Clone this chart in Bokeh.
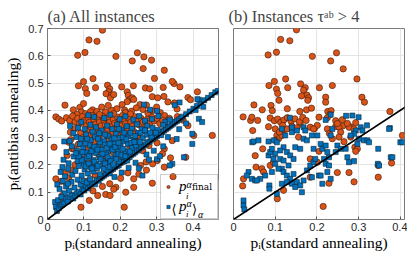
from bokeh.plotting import figure
from bokeh.layouts import row
from bokeh.models import Legend, LegendItem, Label, FixedTicker, Range1d, Slope, BoxAnnotation
from bokeh.embed import file_html
from bokeh.resources import INLINE

ORANGE = "#D95319"
BLUE = "#0072BD"

x_ticks = [0, 0.1, 0.2, 0.3, 0.4]
x_tick_labels = ["0", "0.1", "0.2", "0.3", "0.4"]
y_ticks = [0, 0.1, 0.2, 0.3, 0.4, 0.5, 0.6, 0.7]
y_tick_labels = ["0", "0.1", "0.2", "0.3", "0.4", "0.5", "0.6", "0.7"]
xmax_a = 0.47
xmax_b = 0.41
ymax = 0.7

# ---- panel (a): all instances, p_i^{alpha_final} (orange circles)
a_final = [
    (0.151,0.694),(0.114,0.658),(0.136,0.653),(0.083,0.602),(0.103,0.612),(0.188,0.598),(0.247,0.611),
    (0.233,0.581),(0.265,0.596),(0.286,0.584),(0.263,0.553),(0.321,0.547),(0.294,0.517),(0.125,0.516),
    (0.099,0.505),(0.085,0.490),(0.104,0.480),(0.108,0.462),(0.132,0.483),(0.165,0.492),(0.171,0.479),
    (0.168,0.468),(0.161,0.461),(0.176,0.456),(0.173,0.446),(0.182,0.458),(0.204,0.486),(0.219,0.468),
    (0.222,0.455),(0.226,0.440),(0.219,0.432),(0.233,0.446),(0.236,0.490),(0.269,0.482),(0.281,0.479),
    (0.318,0.484),(0.348,0.498),(0.343,0.506),(0.364,0.486),(0.412,0.468),(0.288,0.450),(0.303,0.446),
    (0.320,0.451),(0.386,0.447),(0.393,0.439),(0.237,0.440),(0.254,0.421),(0.272,0.419),(0.331,0.431),
    (0.349,0.427),(0.048,0.419),(0.071,0.402),(0.089,0.411),(0.093,0.394),(0.099,0.425),(0.124,0.402),
    (0.136,0.396),(0.159,0.394),(0.176,0.401),(0.191,0.406),(0.212,0.401),(0.231,0.397),(0.023,0.376),
    (0.262,0.403),(0.300,0.412),(0.356,0.405),(0.310,0.392),
    (0.118,0.395),(0.149,0.412),(0.167,0.418),(0.205,0.421),(0.244,0.409),(0.286,0.398),(0.322,0.381),
    (0.104,0.388),(0.081,0.385),(0.214,0.392),
    (0.031,0.368),(0.039,0.361),(0.052,0.373),(0.061,0.363),(0.069,0.379),(0.076,0.358),(0.083,0.371),
    (0.088,0.351),(0.096,0.377),(0.101,0.363),(0.106,0.344),(0.111,0.373),(0.115,0.356),(0.119,0.337),
    (0.123,0.381),(0.127,0.367),(0.131,0.349),(0.135,0.331),(0.139,0.373),(0.143,0.357),(0.147,0.343),
    (0.151,0.379),(0.155,0.364),(0.159,0.347),(0.163,0.333),(0.167,0.371),(0.171,0.357),(0.176,0.339),
    (0.181,0.367),(0.185,0.353),(0.189,0.335),(0.193,0.375),(0.197,0.359),(0.201,0.343),(0.206,0.381),
    (0.211,0.366),(0.215,0.351),(0.219,0.331),(0.223,0.373),(0.229,0.357),(0.233,0.341),(0.239,0.377),
    (0.245,0.361),(0.251,0.347),(0.257,0.371),(0.263,0.357),(0.269,0.339),(0.275,0.369),(0.281,0.353),
    (0.287,0.375),(0.293,0.361),(0.301,0.371),(0.309,0.351),(0.317,0.364),(0.326,0.341),(0.335,0.371),
    (0.346,0.356),(0.357,0.377),(0.373,0.364),(0.386,0.344),(0.402,0.308),(0.453,0.308),(0.343,0.289),
    (0.091,0.317),(0.098,0.301),(0.108,0.323),(0.117,0.307),(0.127,0.314),(0.141,0.304),(0.153,0.319),
    (0.169,0.309),(0.179,0.321),(0.195,0.313),(0.207,0.319),(0.221,0.309),(0.237,0.323),(0.248,0.307),
    (0.265,0.326),(0.291,0.314),(0.313,0.321),(0.247,0.308),(0.075,0.333),(0.063,0.320),(0.143,0.385),
    (0.182,0.388),(0.228,0.387),(0.276,0.390),
    (0.018,0.265),(0.054,0.235),(0.068,0.259),(0.059,0.283),(0.064,0.293),(0.073,0.259),(0.085,0.276),
    (0.095,0.289),(0.112,0.262),(0.128,0.284),(0.146,0.271),(0.165,0.296),(0.186,0.276),(0.205,0.291),
    (0.225,0.271),(0.245,0.284),(0.279,0.271),(0.321,0.259),(0.301,0.281),(0.262,0.252),(0.101,0.221),
    (0.121,0.209),(0.141,0.236),(0.161,0.226),(0.181,0.246),(0.201,0.219),(0.222,0.241),(0.256,0.198),
    (0.271,0.211),(0.289,0.204),(0.302,0.216),(0.321,0.192),(0.380,0.228),(0.316,0.241),(0.338,0.226),
    (0.023,0.149),(0.038,0.140),(0.058,0.152),(0.076,0.201),(0.066,0.181),(0.049,0.171),(0.041,0.088),
    (0.037,0.063),(0.092,0.045),(0.115,0.070),(0.138,0.088),(0.160,0.092),(0.172,0.088),(0.211,0.045),
    (0.215,0.100),(0.237,0.118),(0.188,0.118),(0.182,0.111),(0.288,0.133),(0.345,0.157),(0.237,0.149),
    (0.111,0.141),(0.131,0.161),(0.151,0.121),(0.171,0.131),(0.201,0.151),(0.221,0.171),(0.251,0.166),
    (0.272,0.181),(0.125,0.105),
]

# ---- panel (a): <p_i^alpha>_alpha (blue squares)
a_mean = [
    (0.021,0.064),(0.023,0.046),(0.026,0.031),(0.031,0.041),(0.036,0.052),(0.029,0.071),(0.041,0.056),
    (0.046,0.062),(0.051,0.076),(0.056,0.066),(0.061,0.082),(0.066,0.091),(0.071,0.077),(0.076,0.087),
    (0.081,0.096),(0.086,0.102),(0.091,0.092),(0.096,0.112),(0.101,0.106),(0.106,0.121),(0.111,0.114),
    (0.116,0.127),(0.121,0.131),(0.126,0.136),(0.131,0.129),(0.136,0.146),(0.141,0.142),(0.146,0.152),
    (0.151,0.157),(0.156,0.161),(0.161,0.167),(0.166,0.171),(0.171,0.169),(0.176,0.182),(0.181,0.186),
    (0.186,0.192),(0.191,0.196),(0.196,0.199),(0.201,0.207),(0.206,0.211),(0.211,0.213),(0.216,0.222),
    (0.221,0.226),(0.226,0.229),(0.231,0.237),(0.236,0.241),(0.241,0.246),(0.246,0.252),(0.251,0.256),
    (0.256,0.263),(0.261,0.266),(0.266,0.272),(0.271,0.276),(0.276,0.283),(0.281,0.286),(0.286,0.293),
    (0.291,0.296),(0.296,0.301),(0.301,0.306),(0.306,0.313),(0.311,0.316),(0.316,0.321),(0.321,0.326),
    (0.326,0.331),(0.331,0.336),(0.336,0.341),(0.341,0.346),(0.346,0.351),(0.351,0.357),(0.356,0.361),
    (0.361,0.366),(0.366,0.371),(0.371,0.377),(0.381,0.386),(0.391,0.396),(0.401,0.406),(0.411,0.416),
    (0.421,0.426),(0.431,0.437),(0.441,0.446),(0.451,0.456),(0.461,0.466),(0.468,0.471),
    (0.112,0.382),(0.128,0.376),(0.156,0.372),(0.173,0.384),(0.198,0.368),(0.214,0.378),(0.236,0.366),
    (0.252,0.379),(0.268,0.362),(0.287,0.368),(0.305,0.379),(0.324,0.358),(0.336,0.366),(0.093,0.357),
    (0.084,0.336),(0.102,0.331),(0.118,0.347),(0.133,0.338),(0.149,0.326),(0.164,0.344),(0.178,0.331),
    (0.191,0.348),(0.204,0.327),(0.218,0.342),(0.232,0.333),(0.246,0.349),(0.259,0.331),(0.274,0.344),
    (0.289,0.336),(0.303,0.328),(0.318,0.347),(0.062,0.343),
    (0.046,0.286),(0.061,0.288),(0.079,0.302),(0.092,0.296),(0.106,0.311),(0.119,0.291),(0.131,0.304),
    (0.142,0.316),(0.155,0.289),(0.167,0.306),(0.176,0.293),(0.188,0.314),(0.199,0.299),(0.211,0.287),
    (0.223,0.306),(0.236,0.293),(0.249,0.317),(0.262,0.298),(0.273,0.311),(0.286,0.304),(0.298,0.318),
    (0.312,0.309),(0.071,0.317),
    (0.052,0.247),(0.067,0.268),(0.081,0.252),(0.089,0.276),(0.098,0.261),(0.107,0.246),(0.116,0.272),
    (0.124,0.257),(0.133,0.244),(0.139,0.268),(0.148,0.256),(0.157,0.274),(0.166,0.249),(0.174,0.263),
    (0.183,0.278),(0.192,0.254),(0.201,0.268),(0.212,0.251),(0.221,0.276),(0.232,0.262),(0.243,0.272),
    (0.254,0.284),(0.104,0.279),(0.144,0.283),
    (0.044,0.219),(0.058,0.206),(0.072,0.231),(0.083,0.214),(0.091,0.238),(0.099,0.204),(0.108,0.226),
    (0.117,0.239),(0.126,0.218),(0.134,0.204),(0.143,0.229),(0.152,0.214),(0.161,0.238),(0.169,0.207),
    (0.178,0.224),(0.187,0.236),(0.196,0.213),(0.208,0.229),(0.219,0.216),
    (0.036,0.174),(0.048,0.158),(0.057,0.186),(0.068,0.164),(0.077,0.178),(0.086,0.196),(0.094,0.161),
    (0.102,0.183),(0.111,0.169),(0.119,0.192),(0.127,0.176),(0.136,0.188),(0.144,0.166),(0.153,0.196),
    (0.162,0.181),(0.171,0.193),(0.041,0.192),
    (0.027,0.128),(0.033,0.112),(0.042,0.141),(0.051,0.121),(0.059,0.106),(0.066,0.138),(0.074,0.117),
    (0.083,0.146),(0.091,0.128),(0.099,0.141),(0.108,0.136),(0.117,0.148),(0.047,0.096),(0.038,0.083),
    (0.056,0.131),
    (0.105,0.195),(0.113,0.205),(0.122,0.187),(0.129,0.212),(0.138,0.197),(0.146,0.221),(0.154,0.186),
    (0.158,0.205),(0.165,0.228),(0.173,0.214),(0.181,0.201),(0.189,0.222),(0.195,0.241),(0.203,0.236),
    (0.207,0.259),(0.214,0.232),(0.226,0.249),(0.229,0.281),(0.239,0.284),(0.114,0.232),(0.121,0.251),
    (0.129,0.267),(0.137,0.256),(0.151,0.241),(0.163,0.262),(0.171,0.278),(0.179,0.256),(0.186,0.266),
    (0.195,0.281),(0.207,0.302),(0.217,0.294),(0.228,0.318),(0.241,0.306),(0.256,0.318),(0.268,0.327),
    (0.282,0.318),(0.094,0.218),(0.086,0.232),(0.078,0.243),(0.096,0.247),(0.109,0.296),(0.124,0.322),
    (0.139,0.296),(0.158,0.311),(0.183,0.298),(0.196,0.332),(0.211,0.318),
    (0.343,0.204),(0.336,0.198),(0.301,0.221),(0.309,0.232),(0.375,0.228),(0.398,0.277),(0.398,0.314),
    (0.416,0.369),(0.416,0.439),(0.425,0.357),(0.412,0.441),(0.363,0.429),(0.350,0.419),(0.407,0.401),
    (0.428,0.413),(0.265,0.421),(0.282,0.402),(0.301,0.398),(0.261,0.161),(0.251,0.188),(0.279,0.219),
    (0.242,0.208),(0.223,0.189),(0.204,0.172),(0.184,0.156),(0.362,0.331),(0.381,0.352),(0.331,0.302),
    (0.292,0.252),(0.272,0.238),(0.355,0.295),(0.318,0.268),
]

# ---- panel (b): instances tau^ab > 4
b_final = [
    (0.151,0.695),(0.113,0.660),(0.135,0.655),(0.083,0.603),(0.103,0.613),(0.189,0.598),(0.247,0.611),
    (0.233,0.581),(0.263,0.552),(0.296,0.515),(0.125,0.515),(0.098,0.506),(0.085,0.491),(0.130,0.483),
    (0.103,0.478),(0.106,0.462),(0.109,0.437),(0.161,0.497),(0.172,0.483),(0.168,0.474),(0.176,0.456),
    (0.163,0.453),(0.180,0.446),(0.178,0.437),(0.206,0.483),(0.237,0.491),(0.221,0.448),(0.221,0.430),
    (0.308,0.448),(0.314,0.430),(0.375,0.396),(0.049,0.420),(0.023,0.376),(0.041,0.363),(0.069,0.402),
    (0.090,0.418),(0.093,0.399),(0.129,0.406),(0.159,0.396),(0.175,0.402),(0.187,0.408),(0.226,0.396),
    (0.234,0.399),(0.231,0.385),(0.245,0.341),(0.262,0.343),(0.280,0.340),(0.194,0.333),(0.201,0.345),
    (0.046,0.326),(0.058,0.363),(0.024,0.149),(0.022,0.123),(0.052,0.234),(0.054,0.192),(0.068,0.186),
    (0.072,0.174),(0.070,0.259),(0.088,0.198),(0.096,0.210),(0.084,0.340),(0.100,0.332),(0.104,0.308),
    (0.108,0.296),(0.100,0.290),(0.120,0.326),(0.128,0.332),(0.116,0.308),(0.120,0.107),(0.160,0.350),
    (0.184,0.338),(0.192,0.332),(0.156,0.302),(0.184,0.222),(0.184,0.155),(0.044,0.375),(0.088,0.372),
    (0.098,0.362),(0.106,0.368),(0.113,0.356),(0.121,0.365),(0.129,0.373),(0.138,0.360),(0.147,0.369),
    (0.158,0.358),(0.166,0.374),(0.174,0.363),(0.140,0.342),(0.152,0.336),(0.118,0.345),(0.110,0.321),
    (0.205,0.375),(0.225,0.373),(0.245,0.362),(0.253,0.338),(0.257,0.320),(0.249,0.352),(0.277,0.338),
    (0.289,0.332),(0.293,0.355),(0.273,0.352),(0.261,0.366),(0.205,0.250),(0.201,0.210),(0.225,0.332),
    (0.237,0.296),(0.253,0.302),(0.281,0.302),(0.291,0.265),(0.297,0.259),(0.293,0.250),(0.249,0.172),
    (0.277,0.172),(0.289,0.138),(0.229,0.133),(0.215,0.048),(0.347,0.198),(0.347,0.155),(0.379,0.207),
    (0.405,0.308),(0.105,0.076),(0.230,0.315),(0.265,0.285),
]

b_mean = [
    (0.135,0.373),(0.233,0.384),(0.221,0.365),(0.270,0.380),(0.285,0.381),(0.300,0.375),(0.305,0.338),
    (0.320,0.345),(0.375,0.335),(0.045,0.283),(0.097,0.290),(0.400,0.283),(0.377,0.228),(0.346,0.204),
    (0.048,0.286),(0.060,0.290),(0.084,0.286),(0.024,0.070),(0.024,0.051),(0.026,0.037),(0.036,0.174),
    (0.032,0.161),(0.044,0.149),(0.052,0.143),(0.086,0.125),(0.086,0.113),(0.084,0.235),(0.088,0.247),
    (0.092,0.259),(0.096,0.222),(0.100,0.204),(0.104,0.094),(0.116,0.186),(0.120,0.174),(0.128,0.161),
    (0.136,0.149),(0.144,0.167),(0.152,0.137),(0.160,0.125),(0.168,0.143),(0.176,0.180),(0.184,0.198),
    (0.192,0.210),(0.188,0.155),(0.148,0.265),(0.160,0.259),(0.168,0.296),(0.176,0.290),(0.188,0.308),
    (0.192,0.259),(0.196,0.222),(0.120,0.265),(0.128,0.247),(0.136,0.235),(0.144,0.222),(0.112,0.222),
    (0.124,0.308),(0.140,0.320),(0.164,0.100),(0.104,0.283),(0.112,0.253),(0.100,0.241),(0.120,0.216),
    (0.132,0.198),(0.108,0.186),(0.092,0.174),(0.076,0.161),(0.064,0.149),(0.056,0.143),(0.116,0.332),
    (0.140,0.338),(0.168,0.338),(0.172,0.326),(0.152,0.326),(0.116,0.131),(0.128,0.137),(0.140,0.131),
    (0.148,0.119),(0.201,0.308),(0.209,0.277),(0.213,0.259),(0.221,0.271),(0.225,0.247),(0.229,0.228),
    (0.217,0.222),(0.221,0.204),(0.229,0.198),(0.205,0.161),(0.209,0.161),(0.233,0.149),(0.213,0.131),
    (0.225,0.174),(0.245,0.247),(0.249,0.271),(0.257,0.259),(0.269,0.259),(0.273,0.228),(0.277,0.210),
    (0.289,0.214),(0.297,0.277),(0.301,0.296),(0.309,0.326),(0.313,0.290),(0.321,0.290),(0.325,0.283),
    (0.293,0.326),(0.289,0.314),(0.281,0.308),(0.373,0.332),(0.347,0.259),(0.381,0.228),(0.405,0.283),
    (0.349,0.198),(0.237,0.332),(0.233,0.308),
]

SERIF = "Liberation Serif"
SANS = "Liberation Sans"
FIG_H = 256
TOP = 28
BOTTOM = 37


def make_fig(width, xmax, left, right, title, offset, show_y):
    p = figure(width=width, height=FIG_H, x_range=Range1d(0, xmax), y_range=Range1d(0, ymax),
               output_backend="svg", toolbar_location=None,
               min_border_left=left, min_border_right=right, min_border_top=TOP, min_border_bottom=BOTTOM)
    p.title.text = title
    p.title.text_font = SERIF
    p.title.text_font_size = "16.5px"
    p.title.text_font_style = "normal"
    p.title.align = "left"
    p.title.offset = offset
    p.title.standoff = 6
    p.background_fill_color = "white"
    p.border_fill_color = "white"
    p.outline_line_color = "#7a7a7a"
    p.outline_line_width = 1
    for ax, ticks, labels in ((p.xaxis[0], x_ticks, x_tick_labels), (p.yaxis[0], y_ticks, y_tick_labels)):
        ax.ticker = FixedTicker(ticks=ticks)
        ax.major_label_overrides = dict(zip(ticks, labels))
        ax.axis_line_color = None
        ax.major_tick_in = 3
        ax.major_tick_out = 0
        ax.major_tick_line_color = "#555555"
        ax.minor_tick_line_color = None
        ax.major_label_text_font = SANS
        ax.major_label_text_font_size = "11px"
        ax.major_label_text_color = "#262626"
        ax.axis_label_text_font = SERIF
        ax.axis_label_text_font_size = "15.5px"
        ax.axis_label_text_font_style = "normal"
        ax.axis_label_text_color = "black"
    p.xaxis.major_label_standoff = 3
    p.xaxis.axis_label_standoff = 0
    p.yaxis.major_label_standoff = 4
    p.yaxis.axis_label_standoff = 4
    p.xaxis.axis_label = "pᵢ(standard annealing)"
    if show_y:
        p.yaxis.axis_label = "pᵢ(antibias annealing)"
    else:
        p.yaxis.visible = False
    p.xgrid.ticker = FixedTicker(ticks=x_ticks)
    p.ygrid.ticker = FixedTicker(ticks=y_ticks)
    p.grid.grid_line_color = "#e4e4e4"
    p.grid.grid_line_width = 1
    return p


def add_points(p, finals, means):
    r1 = p.scatter(x=[v[0] for v in finals], y=[v[1] for v in finals], marker="circle", size=6.3,
                   fill_color=ORANGE, line_color="#3a1a08", line_width=0.6)
    r2 = p.scatter(x=[v[0] for v in means], y=[v[1] for v in means], marker="square", size=5,
                   fill_color=BLUE, line_color="#0d2538", line_width=0.6)
    p.add_layout(Slope(gradient=1, y_intercept=0, line_color="black", line_width=1.6))
    return r1, r2


pa = make_fig(225, xmax_a, 47, 7, "(a)   All instances", 0, True)
ra1, ra2 = add_points(pa, a_final, a_mean)
pb = make_fig(182, xmax_b, 8, 3, "(b)   Instances τᵃᵇ > 4", -5, False)
add_points(pb, b_final, b_mean)

# legend geometry (pixels)
FW = float(225 - 47 - 7)
FH = float(FIG_H - TOP - BOTTOM)
def lx(d):
    return xmax_a - d * xmax_a / FW
def ly(h):
    return h * ymax / FH

LEG_W, LEG_H = 57, 39
pa.add_layout(BoxAnnotation(left=lx(LEG_W), right=xmax_a, bottom=0, top=ly(LEG_H),
                            fill_color="white", fill_alpha=1, line_color=None))

legend = Legend(items=[LegendItem(label="p", renderers=[ra1]), LegendItem(label="p", renderers=[ra2])],
                location="bottom_right", margin=0, padding=3, spacing=3, glyph_width=8, glyph_height=15,
                label_width=35, label_height=15, label_standoff=7,
                label_text_font=SERIF, label_text_font_size="15px", label_text_font_style="italic",
                label_text_color="black", label_text_baseline="middle",
                border_line_color="#9a9a9a", border_line_width=1, background_fill_alpha=0)
pa.add_layout(legend)

legend_texts = [
    ("i", 32.5, 23.5, SERIF, "9px", "italic"), ("α", 32, 35, SERIF, "10px", "italic"),
    ("final", 26.5, 32.5, "DejaVu Serif", "9px", "normal"),
    ("⟨", 47, 10.5, "DejaVu Serif", "13px", "normal"),
    ("i", 32.5, 5.5, SERIF, "9px", "italic"), ("α", 32, 16, SERIF, "10px", "italic"),
    ("⟩", 26.5, 10.5, "DejaVu Serif", "13px", "normal"), ("α", 20.5, 5, SERIF, "10px", "italic"),
]
for t, d, h, f, fs, st in legend_texts:
    pa.add_layout(Label(x=lx(d), y=ly(h), text=t, text_font=f, text_font_size=fs, text_font_style=st,
                        text_baseline="middle", text_align="left", text_color="black"))

layout = row(pa, pb)
open("out.html", "w").write(file_html(layout, INLINE))
